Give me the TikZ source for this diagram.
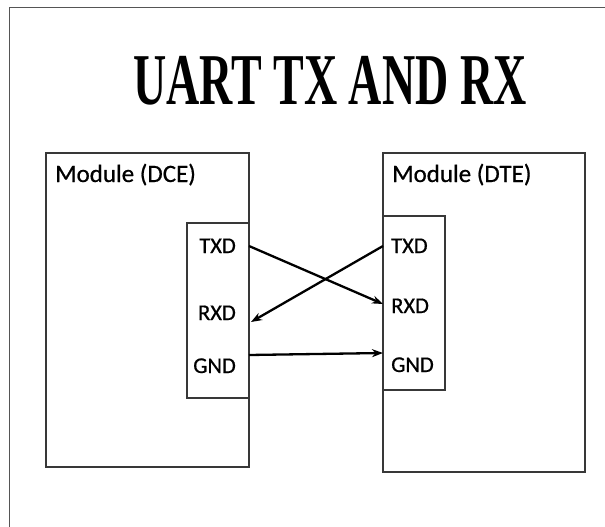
\documentclass[tikz,border=0pt]{standalone}
\usepackage{fontspec}
\setmainfont{Carlito}
\newfontfamily\labelfont{Carlito}[FakeBold=0.6]
\newfontfamily\titlefont{Liberation Serif}
\usetikzlibrary{arrows.meta}
\definecolor{framegray}{HTML}{555555}
\definecolor{boxgray}{HTML}{383838}
\begin{document}
\begin{tikzpicture}[x=1pt,y=-1pt,
  modbox/.style={draw=boxgray,line width=1.6pt,fill=white},
  portbox/.style={draw=boxgray,line width=1.6pt,fill=white},
  modlabel/.style={anchor=base west,inner sep=0pt,font=\labelfont\fontsize{25}{28}\selectfont},
  portlabelL/.style={anchor=base east,inner sep=0pt,font=\labelfont\fontsize{22.5}{26}\selectfont},
  portlabelR/.style={anchor=base west,inner sep=0pt,font=\labelfont\fontsize{22.5}{26}\selectfont},
  wire/.style={line width=2.3pt,-{Stealth[length=11pt,width=8pt]}}]
\useasboundingbox (0,0) rectangle (605,527);
\fill[white] (0,0) rectangle (605,527);
% outer frame
\draw[framegray,line width=1.8pt] (9.5,540) -- (9.5,7.5) -- (620,7.5);
% title
\node[anchor=base,inner sep=0pt] (title) at (330,104)
  {\scalebox{0.63}[1]{\titlefont\bfseries\fontsize{73}{80}\selectfont UART TX AND RX}};
% modules
\draw[modbox] (46,153) rectangle (249,467);
\draw[modbox] (383,153) rectangle (585,472);
\node[modlabel] (dce) at (55,182) {Module (DCE)};
\node[modlabel] (dte) at (392,182) {Module (DTE)};
% port boxes
\draw[portbox] (187,223) rectangle (249,398);
\draw[portbox] (383,216) rectangle (445,390);
\node[portlabelL] (ltx) at (236,253) {TXD};
\node[portlabelL] (lrx) at (236,320) {RXD};
\node[portlabelL] (lgnd) at (236,373) {GND};
\node[portlabelR] (rtx) at (391,253) {TXD};
\node[portlabelR] (rrx) at (391,313) {RXD};
\node[portlabelR] (rgnd) at (391,372) {GND};
% connection points
\coordinate (ltxp) at (249,246);
\coordinate (lrxp) at (251,322);
\coordinate (lgndp) at (249,355);
\coordinate (rtxp) at (383,246);
\coordinate (rrxp) at (383,304);
\coordinate (rgndp) at (383,353);
% wires
\draw[wire] (ltxp) -- (rrxp);
\draw[wire] (rtxp) -- (lrxp);
\draw[wire] (lgndp) -- (rgndp);
\end{tikzpicture}
\end{document}
